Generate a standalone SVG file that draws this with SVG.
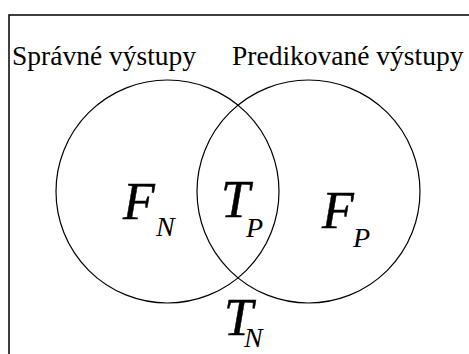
<svg xmlns="http://www.w3.org/2000/svg" width="469" height="354" viewBox="0 0 469 354">
<style>
.frame{fill:none;stroke:#000;stroke-width:1.5}
.set{fill:none;stroke:#000;stroke-width:1.2}
.lbl{font-family:"Liberation Serif","Times New Roman",serif;font-size:27.5px;fill:#000}
.big{font-family:"Liberation Serif","Times New Roman",serif;font-style:italic;font-size:52px;fill:#000;stroke:#000;stroke-width:0.5}
.sub{font-family:"Liberation Serif","Times New Roman",serif;font-style:italic;font-size:28px;fill:#000}
</style>
<rect width="469" height="354" fill="#fff"/>
<g id="frame"><path class="frame" d="M9,354 V15 H469"/></g>
<g id="set-correct">
<circle class="set" cx="167.5" cy="191.5" r="111.5"/>
<text class="lbl" x="12" y="65">Správné výstupy</text>
</g>
<g id="set-predicted">
<circle class="set" cx="308.5" cy="191.5" r="111.5"/>
<text class="lbl" x="232" y="65">Predikované výstupy</text>
</g>
<g id="FN"><text class="big" x="123" y="219">F</text><text class="sub" x="156" y="236">N</text></g>
<g id="TP"><text class="big" x="221" y="217">T</text><text class="sub" x="246" y="237">P</text></g>
<g id="FP"><text class="big" x="322" y="228">F</text><text class="sub" x="353" y="247">P</text></g>
<g id="TN"><text class="big" x="224" y="335">T</text><text class="sub" x="244" y="347">N</text></g>
</svg>
